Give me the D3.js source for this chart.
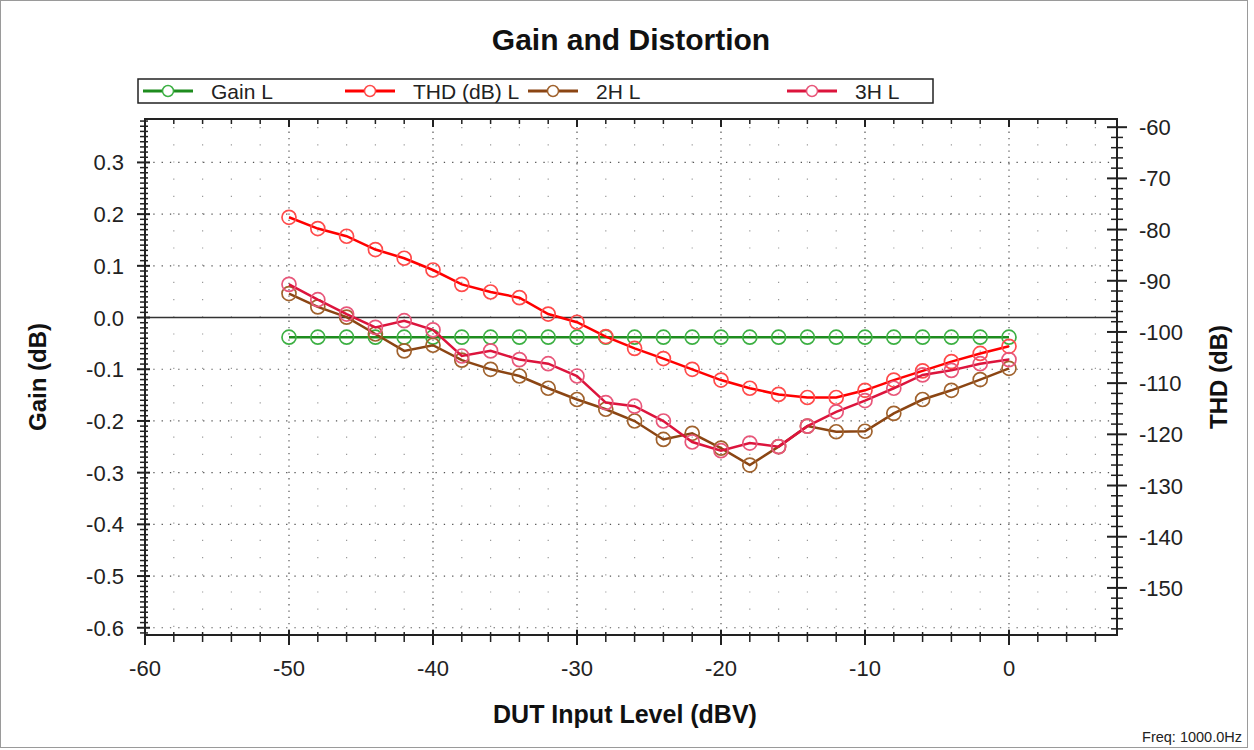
<!DOCTYPE html>
<html><head><meta charset="utf-8">
<script src="https://cdn.jsdelivr.net/npm/d3@7"></script>
<style>
body{margin:0;background:#fff;}
text{font-family:"Liberation Sans",Arial,sans-serif;}
</style></head>
<body>
<svg id="chart" width="1254" height="750"></svg>
<script>
// ---- data ----
const levels = [-50,-48,-46,-44,-42,-40,-38,-36,-34,-32,-30,-28,-26,-24,-22,-20,-18,-16,-14,-12,-10,-8,-6,-4,-2,0];
const gainL = [-0.038,-0.038,-0.038,-0.038,-0.038,-0.038,-0.038,-0.038,-0.038,-0.038,-0.038,-0.038,-0.038,-0.038,-0.038,-0.038,-0.038,-0.038,-0.038,-0.038,-0.038,-0.038,-0.038,-0.038,-0.038,-0.038];
const thdL = [-77.6,-79.8,-81.3,-83.9,-85.6,-87.9,-90.7,-92.2,-93.3,-96.5,-98.1,-100.9,-103.2,-105.2,-107.3,-109.4,-111.0,-112.2,-112.8,-112.8,-111.4,-109.4,-107.6,-105.8,-104.2,-102.8];
const h2L = [-92.5,-95.1,-97.1,-100.4,-103.7,-102.6,-105.5,-107.3,-108.6,-111.0,-113.2,-115.1,-117.4,-121.0,-119.8,-122.7,-126.0,-122.4,-118.4,-119.5,-119.4,-115.9,-113.2,-111.4,-109.3,-107.1];
const h3L = [-90.7,-93.7,-96.5,-99.1,-97.8,-99.6,-104.7,-103.7,-105.4,-106.2,-108.6,-113.8,-114.5,-117.4,-121.5,-123.2,-121.7,-122.4,-118.4,-115.6,-113.4,-111.0,-108.4,-107.5,-106.2,-105.4];
const xTicks = [-60,-50,-40,-30,-20,-10,0];
const gainTicks = [0.3,0.2,0.1,0.0,-0.1,-0.2,-0.3,-0.4,-0.5,-0.6];
const thdTicks = [-60,-70,-80,-90,-100,-110,-120,-130,-140,-150];
const seriesNames = ["Gain L","THD (dB) L","2H L","3H L"];

const svg = d3.select("#chart");
const L=145, R=1117, T=119, B=635;
const x = d3.scaleLinear().domain([-60,7.5]).range([L,R]);
const yG = d3.scaleLinear().domain([-0.614,0.384]).range([B,T]);
const yT = d3.scaleLinear().domain([-159.2,-58.4]).range([B,T]);

// outer border
svg.append("rect").attr("x",0.5).attr("y",0.5).attr("width",1247).attr("height",747)
  .attr("fill","none").attr("stroke","#9a9a9a");

// title
svg.append("text").attr("x",631).attr("y",50).attr("text-anchor","middle")
  .attr("font-size",30).attr("font-weight","bold").attr("fill","#111").text("Gain and Distortion");

// grid
const g = svg.append("g");
d3.range(-58,7.5,2).filter(v=>v%10!==0).forEach(v=>{
  g.append("line").attr("x1",x(v)).attr("x2",x(v)).attr("y1",T+8).attr("y2",B)
   .attr("stroke","#999").attr("stroke-width",1.2).attr("stroke-dasharray","1.2,16");
});
xTicks.forEach(v=>{
  if(v===-60) return;
  g.append("line").attr("x1",x(v)).attr("x2",x(v)).attr("y1",T).attr("y2",B)
   .attr("stroke","#555").attr("stroke-width",1.2).attr("stroke-dasharray","1.3,5");
});
gainTicks.forEach(v=>{
  if(v===0) return;
  g.append("line").attr("x1",L).attr("x2",R).attr("y1",yG(v)).attr("y2",yG(v))
   .attr("stroke","#555").attr("stroke-width",1.2).attr("stroke-dasharray","1.3,7");
});
g.append("line").attr("x1",L).attr("x2",R).attr("y1",yG(0)).attr("y2",yG(0))
 .attr("stroke","#333").attr("stroke-width",1.5);

// series
const series = [
  {name:seriesNames[0], vals:gainL, y:yG, line:"#1e8c1e", mark:"#3cb043"},
  {name:seriesNames[1], vals:thdL, y:yT, line:"#ff0000", mark:"#ff4a4a"},
  {name:seriesNames[2], vals:h2L, y:yT, line:"#8b4513", mark:"#a0622d"},
  {name:seriesNames[3], vals:h3L, y:yT, line:"#dc143c", mark:"#e8577a"}
];
const plot = svg.append("g");
series.forEach(s=>{
  const pts = levels.map((lv,i)=>[lv,s.vals[i]]);
  plot.append("path").datum(pts)
    .attr("d", d3.line().x(d=>x(d[0])).y(d=>s.y(d[1])))
    .attr("fill","none").attr("stroke",s.line).attr("stroke-width",2.5);
  plot.selectAll(null).data(pts).enter().append("circle")
    .attr("cx",d=>x(d[0])).attr("cy",d=>s.y(d[1])).attr("r",7)
    .attr("fill","none").attr("stroke",s.mark).attr("stroke-width",1.7);
});

// frame
svg.append("rect").attr("x",L).attr("y",T).attr("width",R-L).attr("height",B-T)
  .attr("fill","none").attr("stroke","#222").attr("stroke-width",2);

// ticks
const ax = svg.append("g").attr("stroke","#222");
d3.range(-60,7.5,2).forEach(v=>{
  const maj = v%10===0;
  ax.append("line").attr("x1",x(v)).attr("x2",x(v)).attr("y1",B-(maj?5:3)).attr("y2",B+(maj?10:7)).attr("stroke-width",maj?2:1.5);
  ax.append("line").attr("x1",x(v)).attr("x2",x(v)).attr("y1",T).attr("y2",T+(maj?8:5)).attr("stroke-width",maj?2:1.5);
});
xTicks.forEach(v=>{
  svg.append("text").attr("x",x(v)).attr("y",B+41).attr("text-anchor","middle")
    .attr("font-size",22).attr("fill","#222").text(v);
});
d3.range(-61,39,1).forEach(k=>{
  const v=k/100; const maj = k%10===0;
  const y=yG(v);
  ax.append("line").attr("x1",L-(maj?8:5)).attr("x2",L+(maj?5:3)).attr("y1",y).attr("y2",y).attr("stroke-width",maj?2:1.5);
});
gainTicks.forEach(v=>{
  svg.append("text").attr("x",L-21).attr("y",yG(v)+8).attr("text-anchor","end")
    .attr("font-size",22).attr("fill","#222").text(v.toFixed(1));
});
d3.range(-158,-58,2).forEach(v=>{
  const maj = v%10===0; const y=yT(v);
  ax.append("line").attr("x1",R-(maj?10:6)).attr("x2",R+(maj?10:6)).attr("y1",y).attr("y2",y).attr("stroke-width",maj?2:1.5);
});
thdTicks.forEach(v=>{
  svg.append("text").attr("x",R+22).attr("y",yT(v)+8).attr("text-anchor","start")
    .attr("font-size",22).attr("fill","#222").text(v);
});

// axis titles
svg.append("text").attr("transform","translate(46,377) rotate(-90)").attr("text-anchor","middle")
  .attr("font-size",24).attr("font-weight","bold").attr("fill","#111").text("Gain (dB)");
svg.append("text").attr("transform","translate(1227,377) rotate(-90)").attr("text-anchor","middle")
  .attr("font-size",24).attr("font-weight","bold").attr("fill","#111").text("THD (dB)");
svg.append("text").attr("x",625).attr("y",723).attr("text-anchor","middle")
  .attr("font-size",25).attr("font-weight","bold").attr("fill","#111").text("DUT Input Level (dBV)");

// legend
const lg = svg.append("g");
lg.append("rect").attr("x",138).attr("y",79).attr("width",795).attr("height",24)
  .attr("fill","#fff").attr("stroke","#222").attr("stroke-width",1.5);
const legX = [143,345,528,787];
series.forEach((s,i)=>{
  const x0=legX[i];
  lg.append("line").attr("x1",x0).attr("x2",x0+50).attr("y1",91).attr("y2",91)
    .attr("stroke",s.line).attr("stroke-width",2.8);
  lg.append("circle").attr("cx",x0+25).attr("cy",91).attr("r",5.5)
    .attr("fill","#fff").attr("stroke",s.mark).attr("stroke-width",1.5);
  lg.append("text").attr("x",x0+68).attr("y",99).attr("font-size",21).attr("fill","#222").text(s.name);
});

// freq note
svg.append("text").attr("x",1242).attr("y",742).attr("text-anchor","end")
  .attr("font-size",14.5).attr("fill","#222").text("Freq: 1000.0Hz");
</script>
</body></html>
